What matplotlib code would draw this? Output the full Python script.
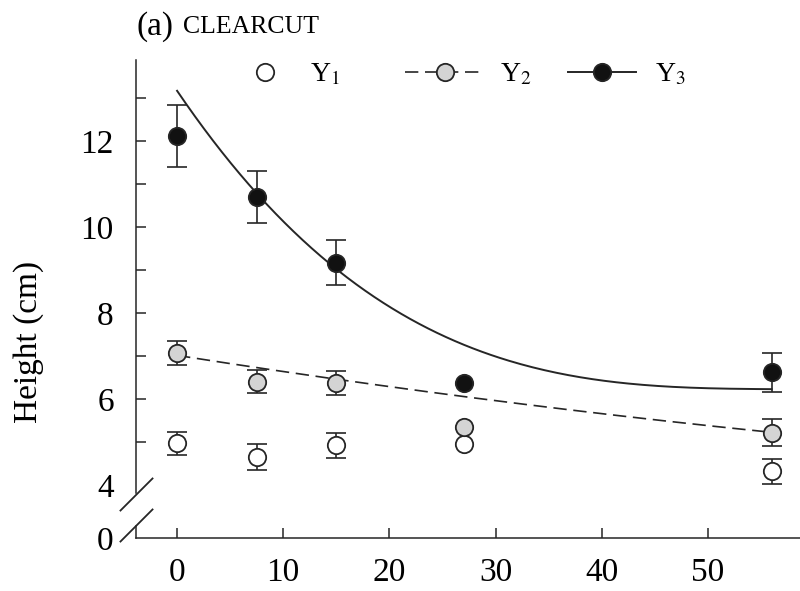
import numpy as np
import matplotlib
matplotlib.use("Agg")
import matplotlib.pyplot as plt
from matplotlib.lines import Line2D

plt.rcParams['font.family'] = ['Liberation Serif', 'DejaVu Serif']
plt.rcParams['mathtext.fontset'] = 'stix'

# dados
dias = [0, 7.5, 15, 27, 56]
y1 = [4.97, 4.65, 4.92, 4.95, 4.32]
y1_err = [0.27, 0.30, 0.29, 0, 0.29]
y2 = [7.07, 6.40, 6.38, 5.34, 5.22]
y2_err = [0.29, 0.27, 0.28, 0, 0.31]
y3 = [12.12, 10.70, 9.17, 6.37, 6.62]
y3_err = [0.72, 0.61, 0.52, 0, 0.45]

# pontos das curvas ajustadas
curva3_x = [0, 7.5, 15, 22.8, 27.6, 32.3, 37.9, 45.5, 56]
curva3_y = [13.19, 10.72, 9.07, 7.67, 7.26, 6.86, 6.51, 6.24, 6.25]
curva2_x = [0, 14.3, 19.8, 28.5, 56]
curva2_y = [7.03, 6.45, 6.28, 6.05, 5.22]

xticks = [0, 10, 20, 30, 40, 50]
ytick_vals = [4, 6, 8, 10, 12]

y_zero = 2.77   # posicao onde o "0" fica depois da quebra
y_top = 13.88
cor = '#262626'
cinza = '#d4d4d4'
ms = 12.5

fig = plt.figure(figsize=(8, 5.91), dpi=100)
ax = fig.add_axes([0.17, 0.0897, 0.83, 0.8088])
ax.set_xlim(-3.87, 58.68)
ax.set_ylim(y_zero, y_top)

# curvas de ajuste
xx = np.linspace(0, 56, 200)
p3 = np.polyfit(curva3_x, curva3_y, 3)
p2 = np.polyfit(curva2_x, curva2_y, 2)
ax.plot(xx, np.polyval(p3, xx), color=cor, lw=1.4, zorder=2)
ax.plot(xx, np.polyval(p2, xx), color=cor, lw=1.2, dashes=(8, 4), zorder=2)

def serie(y, err, face):
    x = np.array(dias)
    y = np.array(y)
    err = np.array(err)
    m = err > 0
    ax.errorbar(x[m], y[m], yerr=err[m], fmt='none', ecolor=cor,
                elinewidth=1.2, capsize=7, capthick=1.2, zorder=3)
    ax.plot(x, y, 'o', ms=ms, mfc=face, mec=cor, mew=1.3, zorder=4)

serie(y1, y1_err, 'white')
serie(y2, y2_err, cinza)
serie(y3, y3_err, '#111111')

# eixos
for s in ['top', 'right']:
    ax.spines[s].set_visible(False)
ax.spines['left'].set_bounds(3.82, y_top)
ax.spines['left'].set_color(cor)
ax.spines['bottom'].set_color(cor)
ax.spines['left'].set_linewidth(1.1)
ax.spines['bottom'].set_linewidth(1.1)

# trecho inferior do eixo e marcas de quebra
ax.plot([-3.87, -3.87], [y_zero, 3.05], color=cor, lw=1.1, clip_on=False)
quebra = [(-1, -1), (1, 1)]
ax.plot([-3.87, -3.87], [3.79, 3.08], ls='none', marker=quebra, ms=24,
        mec=cor, mew=1.3, clip_on=False, zorder=5)

ax.set_xticks(xticks)
ax.tick_params(axis='x', direction='in', length=7, width=1.1, color=cor,
               labelsize=24, pad=14)
ax.set_yticks([y_zero] + ytick_vals)
ax.set_yticklabels(['0'] + [str(v) for v in ytick_vals])
ax.yaxis.remove_overlapping_locs = False
ax.set_yticks(list(range(5, 14)), minor=True)
ax.tick_params(axis='y', which='major', length=0, labelsize=24, pad=16)
ax.tick_params(axis='y', which='minor', direction='in', length=7,
               width=1.1, color=cor)

fig.text(0.036, 0.421, 'Height (cm)', rotation=90, ha='center',
         va='center', fontsize=24)
fig.text(0.171, 0.955, '(a)', fontsize=24, va='center', ha='left')
fig.text(0.229, 0.955, 'CLEARCUT', fontsize=18.5, va='center', ha='left')

# legenda: uma entrada de cada vez para acertar as posicoes
entradas = [
    (Line2D([], [], ls='none', marker='o', ms=ms, mfc='white', mec=cor,
            mew=1.3), 'Y$_1$', 235, 2.16, 0.54),
    (Line2D([], [], color=cor, lw=1.2, dashes=(8, 4), marker='o', ms=ms,
            mfc=cinza, mec=cor, mew=1.3), 'Y$_2$', 405, 2.88, 0.54),
    (Line2D([], [], color=cor, lw=1.4, marker='o', ms=ms, mfc='#111111',
            mec=cor, mew=1.3), 'Y$_3$', 568, 2.45, 0.68),
]
for h, lab, x0, hl, tp in entradas:
    fig.legend([h], [lab], loc='center left',
               bbox_to_anchor=(x0 / 800, 1 - 75 / 591), frameon=False,
               fontsize=20, handlelength=hl, handletextpad=tp,
               borderpad=0, borderaxespad=0)

fig.savefig('out.png', dpi=100)
